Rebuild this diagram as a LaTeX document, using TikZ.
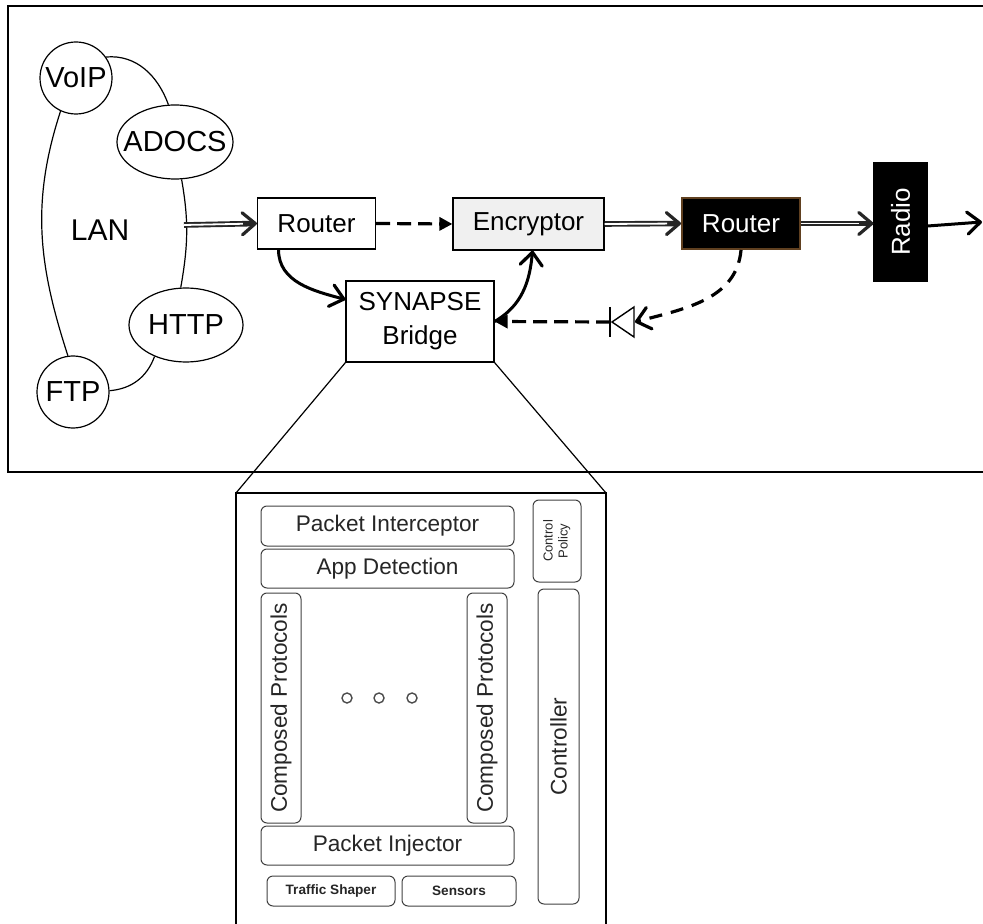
\documentclass[tikz,border=0pt]{standalone}
\usepackage{fontspec}
\setmainfont{Liberation Sans}
\usepackage{graphicx}
\usetikzlibrary{arrows.meta,shapes.geometric}

\tikzset{
  bubble/.style={draw, line width=0.6pt, inner sep=0pt, font=\fontsize{14.5}{16}\selectfont},
  box/.style={draw, line width=0.6pt, inner sep=0pt, align=center, font=\fontsize{13}{17}\selectfont},
  part/.style={draw=black!75, line width=0.5pt, rounded corners=3pt, inner sep=0pt, text=black!85, font=\fontsize{11.3}{13}\selectfont},
  small part/.style={part, font=\fontsize{6.8}{8}\selectfont\bfseries},
  openhead/.tip={Straight Barb[length=6.5pt,width=11pt,line width=1.6pt,round]},
  arr/.style={line width=1.5pt, -openhead},
  dasharr/.style={line width=1.6pt, dash pattern=on 7pt off 3.5pt, -{Triangle[length=6.5pt,width=6.5pt]}},
  dashbarb/.style={line width=1.6pt, dash pattern=on 6.5pt off 4.5pt, -openhead},
  dblline/.style={line width=2.8pt, black!85, -openhead},
  dblcore/.style={white, line width=0.9pt, shorten >=7pt},
}

\begin{document}
\begin{tikzpicture}[x=0.5pt, y=-0.5pt]
\useasboundingbox (0,0) rectangle (983,924);

% network
\draw [line width=0.7pt] (983,6) -- (8,6) -- (8,472) -- (983,472);

\node [bubble, circle, minimum size=36pt] (voip) at (76,78) {VoIP};
\node [bubble, ellipse, minimum width=58pt, minimum height=37pt] (adocs) at (175,142) {\makebox[0pt]{ADOCS}};
\node [bubble, ellipse, minimum width=57pt, minimum height=37pt] (http) at (186,325) {\makebox[0pt]{HTTP}};
\node [bubble, circle, minimum size=36pt] (ftp) at (73,392) {FTP};
\node [font=\fontsize{15}{17}\selectfont] (lan) at (100,230) {LAN};

\draw [line width=0.6pt] (voip.35) to [out=5, in=110] (adocs.100);
\draw [line width=0.6pt] (voip.245) to [out=252, in=108] (ftp.98);
\draw [line width=0.6pt] (adocs.280) to [out=280, in=80] (http.98);
\draw [line width=0.6pt] (http.225) to [out=250, in=5] (ftp.2);
\coordinate (lanport) at (184,225);

\node [box, minimum width=59pt, minimum height=25.5pt] (router) at (316.5,223.5) {Router};
\node [box, fill=black!6, minimum width=75.5pt, minimum height=26pt] (encryptor) at (528.5,224) {Encryptor};
\node [box, minimum width=74pt, minimum height=40.5pt] (synapse) at (420,321.5) {SYNAPSE\\Bridge};
\node [box, fill=black, draw=brown!50!black, line width=1pt, text=white, minimum width=59pt, minimum height=25.5pt] (router2) at (741,223.5) {Router};
\node [box, fill=black, text=white, minimum width=26.5pt, minimum height=59pt] (radio) at (900.5,222) {\rotatebox{90}{Radio}};

% diode
\coordinate (diode) at (610,322);
\coordinate (diodeback) at (635,322);
\draw [line width=0.7pt] (diode) ++(0,-15) -- ++(0,30);
\draw [line width=0.7pt] (diode) ++(2,0) -- ++(22,-15) -- ++(0,30) -- cycle;
\coordinate (out) at (982,222);

\draw [dblline] (lanport) -- (router.west);
\draw [dblcore] (lanport) -- (router.west);
\draw [dblline] (encryptor.east) -- (router2.west);
\draw [dblcore] (encryptor.east) -- (router2.west);
\draw [dblline] (router2.east) -- (router2.east -| radio.west);
\draw [dblcore] (router2.east) -- (router2.east -| radio.west);

\draw [dasharr] (router.east) -- (encryptor.west);
\draw [arr] ([xshift=-19pt]router.south) to [out=270, in=165] ([yshift=11pt]synapse.west);
\draw [arr] (synapse.east) to [out=30, in=265] ([xshift=2pt]encryptor.south);
\draw [dashbarb] (router2.south) to [out=265, in=15] (diodeback);
\draw [dasharr] (diode) -- (synapse.east);
\draw [arr] ([yshift=-2pt]radio.east) -- (out);

% inside the bridge
\coordinate (zoomnw) at (236,493);
\coordinate (zoomne) at (606,493);
\draw [line width=0.6pt] (synapse.south west) -- (zoomnw);
\draw [line width=0.6pt] (synapse.south east) -- (zoomne);
\draw [line width=0.7pt] (236,930) -- (zoomnw) -- (zoomne) -- (606,930);

\node [part, minimum width=126.5pt, minimum height=20pt] (interceptor) at (387.5,526) {Packet Interceptor};
\node [part, minimum width=126.5pt, minimum height=19.5pt] (appdetect) at (387.5,568.5) {App Detection};
\node [part, minimum width=20pt, minimum height=115pt] (protoa) at (281,708) {\rotatebox{90}{Composed Protocols}};
\node [part, minimum width=20pt, minimum height=115pt] (protob) at (487,708) {\rotatebox{90}{Composed Protocols}};
\node [part, minimum width=126.5pt, minimum height=19.5pt] (injector) at (387.5,845.5) {Packet Injector};
\node [small part, minimum width=64pt, minimum height=15pt] (shaper) at (331,891) {Traffic Shaper};
\node [small part, minimum width=57pt, minimum height=15pt] (sensors) at (459,891) {Sensors};
\node [part, minimum width=24pt, minimum height=41pt, font=\fontsize{6.5}{7.5}\selectfont] (policy) at (557,541) {\rotatebox{90}{\begin{tabular}{@{}c@{}}Control\\Policy\end{tabular}}};
\node [part, minimum width=20.5pt, minimum height=157.5pt] (controller) at (558.5,746.5) {\rotatebox{90}{Controller}};

\foreach \x in {347,379,412}
  \draw [black!70, line width=0.7pt] (\x,698) circle (2.5pt);

\end{tikzpicture}
\end{document}
